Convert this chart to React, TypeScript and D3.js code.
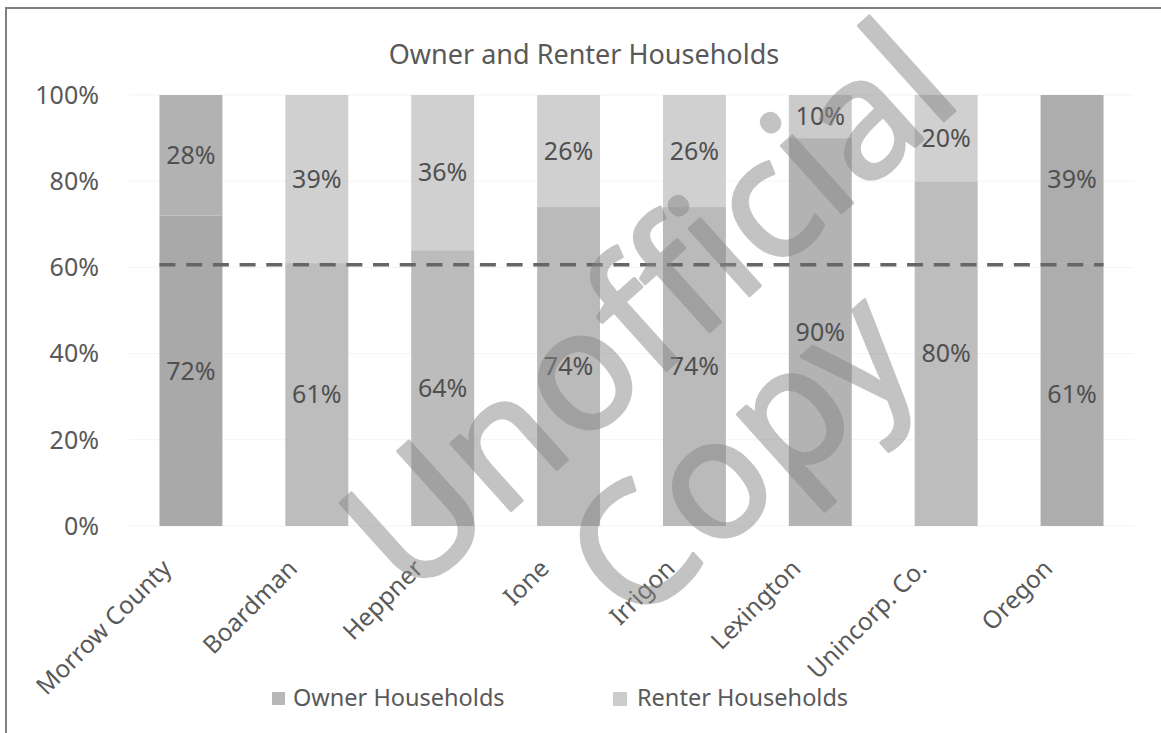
import React from "react";
import * as d3 from "d3";

const categories = ["Morrow County", "Boardman", "Heppner", "Ione", "Irrigon", "Lexington", "Unincorp. Co.", "Oregon"];
const ownerValues = [72, 61, 64, 74, 74, 90, 80, 61];
const renterValues = [28, 39, 36, 26, 26, 10, 20, 39];
const ownerColors = ["#a9a9a9", "#bdbdbd", "#bcbcbc", "#bababa", "#bababa", "#b3b3b3", "#bdbdbd", "#adadad"];
const renterColors = ["#b2b2b2", "#d0d0d0", "#d0d0d0", "#d0d0d0", "#d0d0d0", "#cbcbcb", "#d0d0d0", "#adadad"];
const yTicks = [0, 20, 40, 60, 80, 100];
const referenceValue = 60.6;
const seriesNames = ["Owner Households", "Renter Households"];
const legendColors = ["#b8b8b8", "#cccccc"];

const W = 1161;
const H = 733;
const FONT = "'Noto Sans', 'Open Sans', sans-serif";

export default function App() {
  const x = d3.scaleBand<string>().domain(categories).range([128, 1135]).paddingInner(0.5).paddingOuter(0.25);
  const y = d3.scaleLinear().domain([0, 100]).range([526, 95]);
  const bw = x.bandwidth();
  const first = x(categories[0])!;
  const last = x(categories[categories.length - 1])! + bw;

  return (
    <svg width={W} height={H} style={{ position: "absolute", left: 0, top: 0, background: "#fff" }}>
      <rect x={6} y={8} width={W + 20} height={H + 20} fill="#fff" stroke="#808080" strokeWidth={2} />
      <text x={584} y={55} dy="0.35em" textAnchor="middle" fontFamily={FONT} fontSize={27} fill="#595959">
        Owner and Renter Households
      </text>
      {yTicks.map((t) => (
        <g key={t}>
          <line x1={first - 30} x2={last + 30} y1={y(t)} y2={y(t)} stroke="#f3f3f3" strokeWidth={1} />
          <text x={99} y={y(t)} dy="0.35em" textAnchor="end" fontFamily={FONT} fontSize={25} fill="#595959">
            {`${t}%`}
          </text>
        </g>
      ))}
      {categories.map((c, i) => {
        const x0 = x(c)!;
        const o = ownerValues[i];
        const r = renterValues[i];
        return (
          <g key={c}>
            <rect x={x0} y={y(o)} width={bw} height={y(0) - y(o)} fill={ownerColors[i]} />
            <rect x={x0} y={y(o + r)} width={bw} height={y(o) - y(o + r)} fill={renterColors[i]} />
          </g>
        );
      })}
      <line
        x1={first}
        x2={last}
        y1={y(referenceValue)}
        y2={y(referenceValue)}
        stroke="#666666"
        strokeWidth={3.5}
        strokeDasharray="16 10.7"
      />
      {categories.map((c, i) => {
        const cx = x(c)! + bw / 2;
        const o = ownerValues[i];
        const r = renterValues[i];
        return (
          <g key={c + "lab"} fontFamily={FONT} fontSize={25} fill="#505050" textAnchor="middle">
            <text x={cx} y={(y(0) + y(o)) / 2} dy="0.35em">{`${o}%`}</text>
            <text x={cx} y={(y(o) + y(o + r)) / 2} dy="0.35em">{`${r}%`}</text>
          </g>
        );
      })}
      {categories.map((c) => {
        const cx = x(c)! + bw / 2;
        return (
          <text
            key={c + "x"}
            transform={`translate(${cx - 18},570) rotate(-45)`}
            textAnchor="end"
            fontFamily={FONT}
            fontSize={24.5}
            fill="#595959"
          >
            {c}
          </text>
        );
      })}
      <g fontFamily={FONT} fontSize={23.5} fill="#595959">
        <rect x={272} y={692} width={13} height={13} fill={legendColors[0]} />
        <text x={293} y={706}>{seriesNames[0]}</text>
        <rect x={613} y={692} width={14} height={14} fill={legendColors[1]} />
        <text x={637} y={706}>{seriesNames[1]}</text>
      </g>
      <g
        transform="translate(648,308) rotate(-42)"
        fontFamily={FONT}
        fontSize={168}
        fill="#888888"
        stroke="#888888"
        strokeWidth={3}
        strokeLinejoin="round"
        opacity={0.5}
        textAnchor="middle"
      >
        <text x={0} y={0} dy="0.35em">Unofficial</text>
        <text x={-30} y={170} dy="0.35em">Copy</text>
      </g>
    </svg>
  );
}
